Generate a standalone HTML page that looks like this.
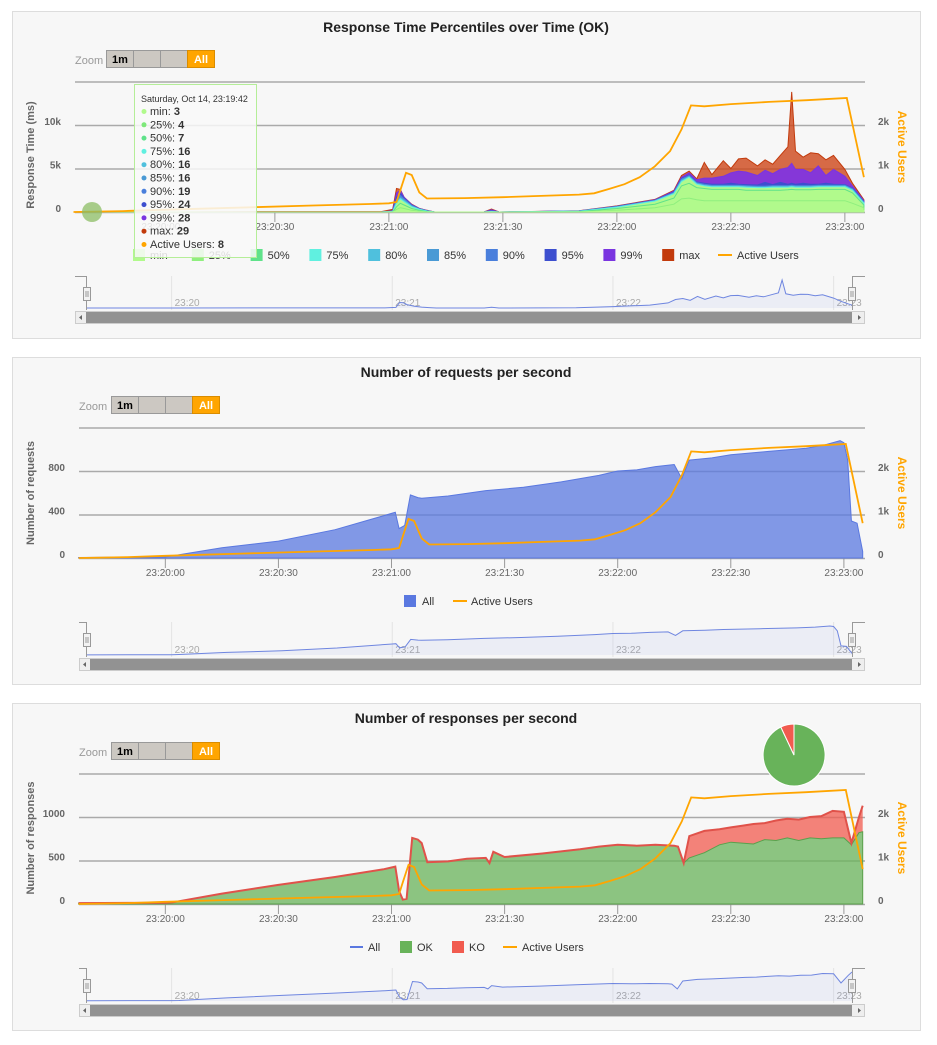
<!DOCTYPE html>
<html><head><meta charset="utf-8"><style>
html,body{margin:0;padding:0;background:#fff;}
svg{display:block;font-family:"Liberation Sans",sans-serif;}
</style></head><body>
<svg id="c" width="937" height="1045" viewBox="0 0 937 1045" xmlns="http://www.w3.org/2000/svg">
<rect x="12.5" y="11.5" width="908" height="327" fill="#f7f7f7" stroke="#ddd"/>
<rect x="12.5" y="357.5" width="908" height="327" fill="#f7f7f7" stroke="#ddd"/>
<rect x="12.5" y="703.5" width="908" height="327" fill="#f7f7f7" stroke="#ddd"/>
<g id="g1"></g><g id="g2"></g><g id="g3"></g>

<text x="466" y="32" text-anchor="middle" font-size="14" font-weight="bold" fill="#222">Response Time Percentiles over Time (OK)</text>
<text x="466" y="377" text-anchor="middle" font-size="14" font-weight="bold" fill="#222">Number of requests per second</text>
<text x="466" y="723" text-anchor="middle" font-size="14" font-weight="bold" fill="#222">Number of responses per second</text>

<g font-size="11">
<text x="75" y="64" fill="#999">Zoom</text>
<rect x="106.5" y="50.5" width="27" height="17" fill="#ccc8c2" stroke="#999"/>
<text x="120" y="63" text-anchor="middle" font-weight="bold" fill="#000">1m</text>
<rect x="133.5" y="50.5" width="27" height="17" fill="#ccc8c2" stroke="#999"/>
<rect x="160.5" y="50.5" width="27" height="17" fill="#ccc8c2" stroke="#999"/>
<rect x="187.5" y="50.5" width="27" height="17" fill="#ffa500" stroke="#d98c00"/>
<text x="201" y="63" text-anchor="middle" font-weight="bold" fill="#fff">All</text>
</g>
<g font-size="11">
<text x="79" y="410" fill="#999">Zoom</text>
<rect x="111.5" y="396.5" width="27" height="17" fill="#ccc8c2" stroke="#999"/>
<text x="125" y="409" text-anchor="middle" font-weight="bold" fill="#000">1m</text>
<rect x="138.5" y="396.5" width="27" height="17" fill="#ccc8c2" stroke="#999"/>
<rect x="165.5" y="396.5" width="27" height="17" fill="#ccc8c2" stroke="#999"/>
<rect x="192.5" y="396.5" width="27" height="17" fill="#ffa500" stroke="#d98c00"/>
<text x="206" y="409" text-anchor="middle" font-weight="bold" fill="#fff">All</text>
</g>
<g font-size="11">
<text x="79" y="756" fill="#999">Zoom</text>
<rect x="111.5" y="742.5" width="27" height="17" fill="#ccc8c2" stroke="#999"/>
<text x="125" y="755" text-anchor="middle" font-weight="bold" fill="#000">1m</text>
<rect x="138.5" y="742.5" width="27" height="17" fill="#ccc8c2" stroke="#999"/>
<rect x="165.5" y="742.5" width="27" height="17" fill="#ccc8c2" stroke="#999"/>
<rect x="192.5" y="742.5" width="27" height="17" fill="#ffa500" stroke="#d98c00"/>
<text x="206" y="755" text-anchor="middle" font-weight="bold" fill="#fff">All</text>
</g>

<text transform="translate(34,155) rotate(-90)" text-anchor="middle" font-size="11" font-weight="bold" fill="#666">Response Time (ms)</text>
<text transform="translate(898,147) rotate(90)" text-anchor="middle" font-size="12" font-weight="bold" fill="#ffa500">Active Users</text>
<text transform="translate(34,493) rotate(-90)" text-anchor="middle" font-size="11" font-weight="bold" fill="#666">Number of requests</text>
<text transform="translate(898,493) rotate(90)" text-anchor="middle" font-size="12" font-weight="bold" fill="#ffa500">Active Users</text>
<text transform="translate(34,838) rotate(-90)" text-anchor="middle" font-size="11" font-weight="bold" fill="#666">Number of responses</text>
<text transform="translate(898,838) rotate(90)" text-anchor="middle" font-size="12" font-weight="bold" fill="#ffa500">Active Users</text>

<g id="leg1" font-size="11" fill="#333"></g>
<g font-size="11" fill="#333">
<rect x="404" y="595" width="12" height="12" fill="#5a78e0"/>
<text x="422" y="605">All</text>
<line x1="453" y1="601" x2="467" y2="601" stroke="#ffa500" stroke-width="2"/>
<text x="471" y="605">Active Users</text>
</g>
<g font-size="11" fill="#333">
<line x1="350" y1="947" x2="363" y2="947" stroke="#5a78e0" stroke-width="2"/>
<text x="368" y="951">All</text>
<rect x="400" y="941" width="12" height="12" fill="#68b35a"/>
<text x="417" y="951">OK</text>
<rect x="452" y="941" width="12" height="12" fill="#f15b4f"/>
<text x="469" y="951">KO</text>
<line x1="503" y1="947" x2="517" y2="947" stroke="#ffa500" stroke-width="2"/>
<text x="522" y="951">Active Users</text>
</g>
<g id="over"></g>
</svg>
<script>
// ---------- Data ----------
const usersTime = [37,50,60,80,100,115,120,122,123,124.5,126,128,130,140,150,160,170,174,178,182,186,190,194,197,199.5,203,210,220,230,240.5,245];
const usersCount = [0,20,50,100,150,185,200,230,500,900,850,450,310,320,340,370,400,430,530,640,800,1050,1400,1900,2450,2430,2480,2530,2570,2620,800];

const pctTime = [37,60,90,118,121,122,123,124,126,128,130,132,145,147,149,170,180,190,195,197,199,201,203,205,208,210,212,214,217,219,221,223,225,226,227,229,231,233,235,237,240,242,245];
const pMin = [0,0,0,0,0,100,200,100,50,0,0,0,0,0,0,0,100,200,300,500,500,400,400,400,400,400,400,400,400,400,400,400,400,400,400,400,400,400,400,400,400,300,200];
const p25 = [0,0,0,0,0,300,500,400,200,100,0,0,0,0,0,0,200,500,900,1500,1600,1400,1300,1300,1300,1300,1300,1300,1300,1300,1300,1300,1300,1300,1300,1300,1300,1300,1300,1300,1300,1000,500];
const p50 = [0,0,0,0,0,600,1000,800,400,200,50,0,0,0,0,50,400,900,1600,3000,3300,2800,2700,2600,2600,2600,2600,2500,2500,2500,2500,2500,2550,2600,2550,2550,2550,2600,2600,2600,2600,2200,800];
const p75 = [0,0,0,0,50,1000,1500,1200,600,300,100,0,0,50,0,80,550,1250,2100,3500,4000,3200,3000,2900,2900,2900,2900,2850,2800,2800,2850,2850,2850,2900,2850,2850,2850,2900,2900,2900,2900,2500,1000];
const p80 = [0,0,0,0,60,1100,1600,1300,650,320,110,0,0,60,0,90,580,1280,2150,3600,4050,3250,3050,2950,2950,2950,2950,2900,2850,2850,2900,2900,2900,2950,2900,2900,2900,2950,2950,2950,2950,2550,1050];
const p85 = [0,0,0,0,70,1200,1700,1400,700,340,120,0,0,70,0,100,600,1300,2200,3700,4100,3300,3100,3000,3000,3000,3000,2950,2900,2900,2950,2950,2950,3000,2950,2950,2950,3000,3000,3000,3000,2600,1100];
const p90 = [0,0,0,0,80,1400,1900,1500,750,360,130,0,0,100,0,110,620,1330,2250,3780,4180,3380,3180,3080,3080,3080,3080,3030,2980,2980,3030,3030,3030,3080,3030,3030,3030,3080,3080,3080,3080,2680,1150];
const p95 = [0,0,0,0,100,1700,2200,1600,800,380,150,0,0,150,0,120,640,1360,2300,3850,4250,3450,3300,3200,3200,3300,3200,3150,3100,3400,3150,3400,3200,3300,3200,3300,3200,3200,3300,3200,3150,2750,1200];
const p99 = [0,0,0,0,150,2200,2500,1700,850,400,170,0,0,250,0,130,660,1400,2400,4000,4500,3700,3900,3900,4100,4500,4700,4600,4200,4800,4400,4900,5100,5600,4900,4900,4500,5300,4200,4900,4100,3000,1300];
const pMax = [0,0,50,50,300,2700,2600,1700,900,420,200,0,0,350,0,140,700,1450,2500,4200,4700,3800,5700,4300,5900,5000,6100,6200,5300,6000,5500,6500,7500,13800,7000,6300,6800,6700,6000,6500,4900,3300,1400];

const reqTime = [37,60,62,75,90,105,118,120,121,122,123.5,125,127,128,135,145,155,165,175,180,185,190,195,197,199,205,210,220,230,235,239,240,241,242,243.5,245];
const reqAll = [5,10,20,95,155,260,390,410,420,270,300,580,555,550,570,620,650,700,760,800,810,840,860,730,900,920,950,980,1010,1040,1080,1060,900,340,320,60];

const resTime = [37,60,62,75,90,105,118,120,121,122,123,124,125.5,127,128,129.5,135,140,145,146,147,150,160,170,175,180,185,190,195,196,197.5,199,203,207,210,213,216,219,222,225,228,231,234,237,240,242,244,245];
const resAll = [10,15,20,120,220,310,400,420,430,150,50,60,760,740,700,480,490,520,530,470,600,540,580,630,660,680,670,680,670,660,470,780,840,860,880,900,920,930,960,980,970,1000,1010,1070,1060,700,1000,1130];
const resOk = [10,15,20,120,220,310,400,420,430,150,50,60,760,740,700,480,490,520,530,470,600,540,580,630,660,680,670,680,670,660,470,530,590,680,710,700,690,740,730,760,730,760,750,760,760,680,820,830];
const pieValues = [93,7];

const timeTicks = [60,90,120,150,180,210,240];
const timeTickLabels = ['23:20:00','23:20:30','23:21:00','23:21:30','23:22:00','23:22:30','23:23:00'];
const navTicks = [60,120,180,240];
const navTickLabels = ['23:20','23:21','23:22','23:23'];
const rtTicks = [0,5000,10000,15000];
const rtTickLabels = ['0','5k','10k',''];
const reqTicks = [0,400,800,1200];
const reqTickLabels = ['0','400','800',''];
const resTicks = [0,500,1000,1500];
const resTickLabels = ['0','500','1000',''];
const userTicks = [0,1000,2000];
const userTickLabels = ['0','1k','2k'];

// ---------- Helpers ----------
const NS='http://www.w3.org/2000/svg';
function mk(tag,attrs,parent){const e=document.createElementNS(NS,tag);for(const k in attrs)e.setAttribute(k,attrs[k]);parent.appendChild(e);return e;}
function lin(d0,d1,r0,r1){return v=>r0+(v-d0)/(d1-d0)*(r1-r0);}
function linePath(ts,vs,x,y){return ts.map((t,i)=>(i?'L':'M')+x(t).toFixed(1)+','+y(vs[i]).toFixed(1)).join('');}
function areaPath(ts,vs,x,y,base){return linePath(ts,vs,x,y)+'L'+x(ts[ts.length-1]).toFixed(1)+','+y(base).toFixed(1)+'L'+x(ts[0]).toFixed(1)+','+y(base).toFixed(1)+'Z';}
function bandPath(ts,hi,lo,x,y){let d=linePath(ts,hi,x,y);for(let i=ts.length-1;i>=0;i--)d+='L'+x(ts[i]).toFixed(1)+','+y(lo[i]).toFixed(1);return d+'Z';}

function axes(g,cfg){
  const {x,y,yu,left,right,top,bottom,yt,ytl}=cfg;
  yt.forEach((v,i)=>{
    const l=mk('line',{x1:left,x2:right,y1:y(v)+0.5,y2:y(v)+0.5,stroke:'#aaa','stroke-width':1.5},g);
    
    
    if(ytl[i]){const t=mk('text',{x:left-14,y:y(v),'text-anchor':'end','font-size':10,'font-weight':'bold',fill:'#666'},g);t.textContent=ytl[i];
    
    }
  });
  userTicks.forEach((v,i)=>{
    const t=mk('text',{x:right+13,y:yu(v),'font-size':10,'font-weight':'bold',fill:'#666'},g);t.textContent=userTickLabels[i];
    
    
  });
  timeTicks.forEach((v,i)=>{
    const l=mk('line',{x1:x(v),x2:x(v),y1:bottom,y2:bottom+10,stroke:'#999'},g);
    
    
    const t=mk('text',{x:x(v),y:bottom+18,'text-anchor':'middle','font-size':10,fill:'#666'},g);t.textContent=timeTickLabels[i];
    
    
  });
}
function usersLine(g,x,yu){
  const p=mk('path',{d:linePath(usersTime,usersCount,x,yu),fill:'none',stroke:'#ffa500','stroke-width':1.8},g);
  
  
}
function navigator(g,ts,vs,vmax,top,bot,left,right){
  const nx=lin(37,245,87,852), ny=lin(0,vmax,bot-2,top+4);
  navTicks.forEach((v,i)=>{
    const l=mk('line',{x1:nx(v),x2:nx(v),y1:top,y2:bot,stroke:'#e4e4e4'},g);
    
    
    const t=mk('text',{x:nx(v)+3,y:bot-4,'font-size':10,fill:'#aaa'},g);t.textContent=navTickLabels[i];
    
    
  });
  const a=mk('path',{d:areaPath(ts,vs,nx,ny,0),fill:'rgba(106,131,224,0.08)',stroke:'none'},g);
  
  
  const l=mk('path',{d:linePath(ts,vs,nx,ny),fill:'none',stroke:'#6f86e0','stroke-width':1},g);
  
  
  const br=mk('path',{d:`M${left},${top+0.5}H${nx(37)-0.5}V${bot}M${right},${top+0.5}H${nx(245)+0.5}V${bot}`,fill:'none',stroke:'#999'},g);
  
  
  [nx(37),nx(245)].forEach(hx=>{
    const h=mk('rect',{x:hx-3.5,y:top+11.5,width:7,height:13,fill:'#f2f2f2',stroke:'#999'},g);
    
    
    mk('path',{d:`M${hx-1},${top+15}v6M${hx+1},${top+15}v6`,stroke:'#999'},g);
  });
  const sb=mk('rect',{x:left+0.5,y:bot+1.5,width:right-left-1,height:12,fill:'#eee',stroke:'#ccc'},g);
  
  
  const th=mk('rect',{x:left+11,y:bot+2,width:right-left-24,height:11,fill:'#929292'},g);
  
  
  const b1=mk('path',{d:`M${left+7},${bot+5}l-3,2.5l3,2.5z`,fill:'#666'},g);
  
  
  const b2=mk('path',{d:`M${right-7},${bot+5}l3,2.5l-3,2.5z`,fill:'#666'},g);
  
  
}

// ---------- Chart 1 ----------
(function(){
  const g=document.getElementById('g1');
  const x=lin(37.4,245.3,75,865), y=lin(0,15000,212,81.5), yu=lin(0,1000,212,168.5);
  axes(g,{x,y,yu,left:75,right:865,top:81,bottom:212,yt:rtTicks,ytl:rtTickLabels});
  const series=[['max',pMax,'rgba(205,70,25,0.8)','#c23a0c'],['p99',p99,'#8537d8','#7a35e0'],['p95',p95,'#3d4fcf','#3d4fcf'],['p90',p90,'#4a7fdc','#4a7fdc'],['p85',p85,'#4a9ad5','#4a9ad5'],['p80',p80,'#4fc0dd','#4fc0dd'],['p75',p75,'#60f0e0','#60f0e0'],['p50',p50,'#5fe28a','#5fe28a'],['p25',p25,'#8fef7e','#8fef7e'],['min',pMin,'#b1fa8c','#b1fa8c']];
  series.forEach(s=>{
    const fill = (s[0]==='p75'||s[0]==='p50'||s[0]==='p25'||s[0]==='min')?'#b1fa8c':s[2];
    const p=mk('path',{d:areaPath(pctTime,s[1],x,y,0),fill:fill,stroke:s[3],'stroke-width':1},g);
    
    
  });
  usersLine(g,x,yu);
  navigator(g,pctTime,pMax,13800,276,310,75,865);
  const lg=document.getElementById('leg1');
  const items=[['min','#b1fa8c'],['25%','#8fef7e'],['50%','#5fe28a'],['75%','#60f0e0'],['80%','#4fc0dd'],['85%','#4a9ad5'],['90%','#4a7fdc'],['95%','#3d4fcf'],['99%','#7a35e0'],['max','#c23a0c']];
  items.forEach((it,i)=>{
    const sx=133+i*58.8;
    const r=mk('rect',{x:sx,y:249,width:12,height:12,fill:it[1]},lg);
    
    
    const t=mk('text',{x:sx+17,y:259},lg);t.textContent=it[0];
  });
  const al=mk('line',{x1:718,x2:732,y1:255,y2:255,stroke:'#ffa500','stroke-width':2},lg);
  
  
  const at=mk('text',{x:737,y:259},lg);at.textContent='Active Users';
})();

// ---------- Chart 2 ----------
(function(){
  const g=document.getElementById('g2');
  const x=lin(37.1,245.6,79,865), y=lin(0,1200,558,427.5), yu=lin(0,1000,558,514.5);
  axes(g,{x,y,yu,left:79,right:865,top:427,bottom:558,yt:reqTicks,ytl:reqTickLabels});
  const a=mk('path',{d:areaPath(reqTime,reqAll,x,y,0),fill:'rgba(90,120,224,0.75)',stroke:'#5a78e0','stroke-width':1},g);
  
  
  usersLine(g,x,yu);
  navigator(g,reqTime,reqAll,1080,622,657,79,865);
})();

// ---------- Chart 3 ----------
(function(){
  const g=document.getElementById('g3');
  const x=lin(37.1,245.6,79,865), y=lin(0,1500,904,773.5), yu=lin(0,1000,904,860.5);
  axes(g,{x,y,yu,left:79,right:865,top:773,bottom:904,yt:resTicks,ytl:resTickLabels});
  const ko=mk('path',{d:bandPath(resTime,resAll,resOk,x,y),fill:'rgba(241,91,79,0.75)',stroke:'none'},g);
  
  
  const ok=mk('path',{d:areaPath(resTime,resOk,x,y,0),fill:'rgba(104,179,90,0.75)',stroke:'#5aa04c','stroke-width':1},g);
  
  
  const al=mk('path',{d:linePath(resTime,resAll,x,y),fill:'none',stroke:'#e0524a','stroke-width':2},g);
  
  
  usersLine(g,x,yu);
  navigator(g,resTime,resAll,1130,968,1003,79,865);
  const cx=794,cy=755,r=31,tot=pieValues[0]+pieValues[1];
  let a0=0;
  const cols=['#68b35a','#f15b4f'];
  pieValues.forEach((v,i)=>{
    const a1=a0+v/tot*2*Math.PI;
    const p=(a)=>[cx+r*Math.sin(a),cy-r*Math.cos(a)];
    const s=p(a0),e=p(a1);
    const sl=mk('path',{d:`M${cx},${cy}L${s[0].toFixed(1)},${s[1].toFixed(1)}A${r},${r} 0 ${a1-a0>Math.PI?1:0} 1 ${e[0].toFixed(1)},${e[1].toFixed(1)}Z`,fill:cols[i],stroke:'#fff','stroke-width':1},g);
    
    
    a0=a1;
  });
})();

// ---------- Tooltip overlay ----------
(function(){
  const g=document.getElementById('over');
  const c=mk('circle',{cx:92,cy:212,r:10,fill:'rgba(140,190,100,0.75)'},g);
  
  
  const b=mk('rect',{x:134.5,y:84.5,width:122,height:173,fill:'rgba(249,249,249,0.85)',stroke:'#b5ee98'},g);
  
  
  const h=mk('text',{x:141,y:102,'font-size':9,fill:'#333'},g);h.textContent='Saturday, Oct 14, 23:19:42';
  const rows=[['min','3','#b1fa8c'],['25%','4','#7ee87a'],['50%','7','#5fe28a'],['75%','16','#60f0e0'],['80%','16','#4fc0dd'],['85%','16','#4a9ad5'],['90%','19','#4a7fdc'],['95%','24','#3d4fcf'],['99%','28','#7a35e0'],['max','29','#c23a0c'],['Active Users','8','#ffa500']];
  rows.forEach((rw,i)=>{
    const yy=115+i*13.3;
    mk('circle',{cx:144,cy:yy-3.5,r:2.5,fill:rw[2]},g);
    const t=mk('text',{x:150,y:yy,'font-size':11,fill:'#333'},g);
    
    
    t.textContent=rw[0]+': ';
    const bs=mk('tspan',{'font-weight':'bold'},t);bs.textContent=rw[1];
  });
})();
</script>
</body></html>
